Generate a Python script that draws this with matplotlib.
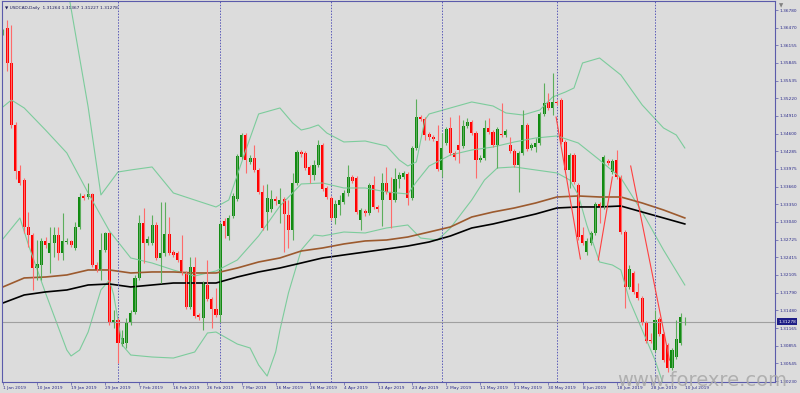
import numpy as np
import matplotlib
matplotlib.use('Agg')
import matplotlib.pyplot as plt
from matplotlib.transforms import blended_transform_factory

# USDCAD daily candles, 1 Jan - 10 Jul 2019 (bar index 0..160)
opens = [
    1.36375, 1.36463, 1.35845, 1.34751, 1.33939, 1.33780, 1.32951, 1.32809, 1.32227, 1.32280,
    1.32704, 1.32492, 1.32668, 1.32809, 1.32492, 1.32686, 1.32704, 1.32580, 1.32951, 1.33498,
    1.33480, 1.33533, 1.32280, 1.32192, 1.32545, 1.32845, 1.31256, 1.31309, 1.30885, 1.30903,
    1.31256, 1.31451, 1.32051, 1.33021, 1.32668, 1.32668, 1.32986, 1.32404, 1.32492, 1.32827,
    1.32509, 1.32492, 1.32368, 1.32139, 1.31539, 1.32245, 1.31398, 1.31345, 1.31927, 1.31680,
    1.31503, 1.31398, 1.33057, 1.32792, 1.33145, 1.33445, 1.34186, 1.34574, 1.34098, 1.34168,
    1.33957, 1.33569, 1.33215, 1.33268, 1.33445, 1.33357, 1.33445, 1.33162, 1.32898, 1.33727,
    1.34274, 1.34257, 1.34010, 1.33868, 1.34045, 1.34398, 1.33639, 1.33463, 1.33110, 1.33339,
    1.33392, 1.33551, 1.33833, 1.33816, 1.33074, 1.33233, 1.33198, 1.33692, 1.33304, 1.33427,
    1.33727, 1.33569, 1.33427, 1.33798, 1.33833, 1.33886, 1.33463, 1.34345, 1.34892, 1.34857,
    1.34592, 1.34539, 1.34468, 1.33957, 1.34433, 1.34698, 1.34257, 1.34398, 1.34380, 1.34733,
    1.34804, 1.34609, 1.34133, 1.34168, 1.34698, 1.34627, 1.34398, 1.34592, 1.34574, 1.34398,
    1.34292, 1.34045, 1.34257, 1.34751, 1.34345, 1.34362, 1.34433, 1.34945, 1.35157, 1.35051,
    1.35157, 1.35192, 1.34451, 1.33957, 1.34221, 1.33692, 1.32809, 1.32509, 1.32668, 1.32845,
    1.33357, 1.33304, 1.34116, 1.33921, 1.34133, 1.33833, 1.32862, 1.31892, 1.32139, 1.31804,
    1.31697, 1.31256, 1.30956, 1.30779, 1.31327, 1.31062, 1.30868, 1.30462, 1.30656, 1.30903,
    1.31264]
highs = [
    1.36445, 1.36604, 1.36516, 1.34804, 1.34045, 1.33816, 1.33215, 1.32845, 1.32721, 1.32756,
    1.32774, 1.32951, 1.32951, 1.32951, 1.33198, 1.32756, 1.32721, 1.33039, 1.33551, 1.33533,
    1.33727, 1.33551, 1.32333, 1.32845, 1.32862, 1.32862, 1.31486, 1.31345, 1.31132, 1.31345,
    1.31486, 1.32104, 1.33162, 1.33286, 1.32792, 1.33162, 1.33039, 1.33392, 1.33392, 1.33127,
    1.32545, 1.32527, 1.32809, 1.32174, 1.32421, 1.32421, 1.31433, 1.31998, 1.32368, 1.31715,
    1.31874, 1.33039, 1.33110, 1.33162, 1.33551, 1.34239, 1.34609, 1.34609, 1.34221, 1.34398,
    1.33992, 1.33692, 1.33710, 1.33604, 1.33498, 1.33639, 1.33480, 1.33427, 1.33904, 1.34309,
    1.34309, 1.34292, 1.34045, 1.34133, 1.34486, 1.34433, 1.33674, 1.33498, 1.33427, 1.33516,
    1.33604, 1.34045, 1.33868, 1.33851, 1.33286, 1.33268, 1.33727, 1.33851, 1.33339, 1.33904,
    1.34010, 1.33833, 1.33992, 1.33921, 1.33939, 1.33921, 1.34380, 1.35210, 1.34927, 1.34892,
    1.34627, 1.34574, 1.34751, 1.34609, 1.34716, 1.34892, 1.34292, 1.34927, 1.34839, 1.34874,
    1.34839, 1.34645, 1.34221, 1.34839, 1.34874, 1.34662, 1.34716, 1.35139, 1.34680, 1.34539,
    1.34327, 1.34292, 1.35016, 1.34786, 1.34433, 1.34521, 1.34980, 1.35492, 1.35316, 1.35669,
    1.35192, 1.35227, 1.34486, 1.34257, 1.34257, 1.33727, 1.32951, 1.32756, 1.32880, 1.33392,
    1.33392, 1.34221, 1.34151, 1.34151, 1.34309, 1.33868, 1.32898, 1.32280, 1.32174, 1.31962,
    1.31733, 1.31292, 1.31080, 1.31486, 1.31362, 1.31097, 1.30903, 1.30815, 1.31309, 1.31433,
    1.31367]
lows = [
    1.36339, 1.35704, 1.34698, 1.33798, 1.33692, 1.32845, 1.32598, 1.31839, 1.32015, 1.32015,
    1.32580, 1.32139, 1.32421, 1.32368, 1.32368, 1.32651, 1.32598, 1.32545, 1.32915, 1.33427,
    1.33445, 1.32245, 1.32157, 1.32015, 1.32509, 1.31221, 1.31168, 1.30550, 1.30850, 1.30815,
    1.31221, 1.31415, 1.32015, 1.32315, 1.32633, 1.32633, 1.32368, 1.31962, 1.32439, 1.32457,
    1.32421, 1.32333, 1.32104, 1.31503, 1.31503, 1.31345, 1.31309, 1.31132, 1.31645, 1.31168,
    1.31362, 1.31274, 1.32756, 1.32721, 1.33110, 1.33410, 1.34151, 1.33904, 1.34063, 1.33921,
    1.33533, 1.32898, 1.32898, 1.33215, 1.33339, 1.33021, 1.32509, 1.32580, 1.32721, 1.33692,
    1.34186, 1.33957, 1.33727, 1.33780, 1.34010, 1.33586, 1.33445, 1.33074, 1.33004, 1.33162,
    1.33357, 1.33498, 1.33727, 1.33180, 1.32898, 1.33145, 1.33162, 1.33268, 1.33215, 1.32968,
    1.33533, 1.32933, 1.33392, 1.33639, 1.33798, 1.33339, 1.33427, 1.34309, 1.34821, 1.34486,
    1.34486, 1.34468, 1.33939, 1.33833, 1.34398, 1.34221, 1.34133, 1.34080, 1.34345, 1.34698,
    1.34574, 1.33816, 1.34098, 1.34133, 1.34592, 1.34362, 1.33992, 1.34539, 1.34539, 1.34257,
    1.34010, 1.33569, 1.34221, 1.34292, 1.34309, 1.34274, 1.34398, 1.34910, 1.35016, 1.34927,
    1.35104, 1.34415, 1.33921, 1.33639, 1.33710, 1.32721, 1.32633, 1.32457, 1.32633, 1.32809,
    1.33021, 1.33268, 1.34045, 1.33886, 1.33798, 1.32827, 1.31521, 1.31856, 1.31768, 1.31662,
    1.31221, 1.30903, 1.30903, 1.30744, 1.31027, 1.30568, 1.30391, 1.30427, 1.30621, 1.30868,
    1.31227]
closes = [
    1.36410, 1.35845, 1.34751, 1.33939, 1.33727, 1.32951, 1.32809, 1.32227, 1.32298, 1.32704,
    1.32633, 1.32668, 1.32809, 1.32492, 1.32704, 1.32704, 1.32633, 1.32951, 1.33480, 1.33463,
    1.33533, 1.32280, 1.32192, 1.32545, 1.32845, 1.31256, 1.31309, 1.30903, 1.30991, 1.31256,
    1.31433, 1.32051, 1.33021, 1.32668, 1.32739, 1.32986, 1.32404, 1.32492, 1.32827, 1.32492,
    1.32457, 1.32368, 1.32139, 1.31539, 1.32245, 1.31380, 1.31362, 1.31962, 1.31680, 1.31503,
    1.31398, 1.33004, 1.32968, 1.33110, 1.33498, 1.34204, 1.34574, 1.34133, 1.34168, 1.33957,
    1.33569, 1.32933, 1.33463, 1.33445, 1.33410, 1.33427, 1.33180, 1.32898, 1.33727, 1.34274,
    1.34239, 1.33992, 1.33868, 1.34045, 1.34398, 1.33621, 1.33480, 1.33110, 1.33357, 1.33427,
    1.33551, 1.33833, 1.33763, 1.33215, 1.33251, 1.33198, 1.33692, 1.33304, 1.33268, 1.33727,
    1.33569, 1.33427, 1.33798, 1.33868, 1.33904, 1.33463, 1.34345, 1.34892, 1.34857, 1.34574,
    1.34539, 1.34504, 1.33974, 1.34345, 1.34680, 1.34257, 1.34186, 1.34309, 1.34733, 1.34804,
    1.34609, 1.34133, 1.34168, 1.34698, 1.34627, 1.34398, 1.34680, 1.34574, 1.34645, 1.34292,
    1.34045, 1.34257, 1.34751, 1.34327, 1.34398, 1.34433, 1.34945, 1.35139, 1.35051, 1.35157,
    1.35139, 1.34451, 1.33957, 1.34221, 1.33745, 1.32774, 1.32668, 1.32704, 1.32845, 1.33357,
    1.33304, 1.34186, 1.34080, 1.34116, 1.33833, 1.32862, 1.31892, 1.32209, 1.31804, 1.31697,
    1.31256, 1.30938, 1.30938, 1.31309, 1.31062, 1.30603, 1.30462, 1.30779, 1.30974, 1.31362,
    1.31278]

date_labels = ['1 Jan 2019', '10 Jan 2019', '19 Jan 2019', '29 Jan 2019', '7 Feb 2019',
               '16 Feb 2019', '26 Feb 2019', '7 Mar 2019', '16 Mar 2019', '26 Mar 2019',
               '4 Apr 2019', '13 Apr 2019', '23 Apr 2019', '2 May 2019', '11 May 2019',
               '21 May 2019', '30 May 2019', '8 Jun 2019', '18 Jun 2019', '28 Jun 2019',
               '10 Jul 2019']
month_start_bars = [27, 51, 77, 103, 130, 153]

price_ticks = [1.36780, 1.36470, 1.36155, 1.35845, 1.35535, 1.35220, 1.34910, 1.34600,
               1.34285, 1.33975, 1.33660, 1.33350, 1.33040, 1.32725, 1.32415, 1.32105,
               1.31790, 1.31480, 1.31165, 1.30855, 1.30545, 1.30230]
last_price = 1.31278
header = 'USDCAD,Daily  1.31264 1.31367 1.31227 1.31278'

# moving averages, read every 5 bars
ma_bars = list(range(0, 161, 5))
ma_brown = [1.31892, 1.32051, 1.32068, 1.32104, 1.32192, 1.32192, 1.32139, 1.32157, 1.32157,
            1.32139, 1.32139, 1.32227, 1.32333, 1.32404, 1.32527, 1.32580, 1.32651, 1.32704,
            1.32721, 1.32774, 1.32862, 1.32951, 1.33127, 1.33215, 1.33286, 1.33374, 1.33480,
            1.33498, 1.33480, 1.33480, 1.33374, 1.33251, 1.33110]
ma_black = [1.31609, 1.31751, 1.31804, 1.31839, 1.31927, 1.31945, 1.31892, 1.31927, 1.31962,
            1.31962, 1.31962, 1.32068, 1.32157, 1.32227, 1.32315, 1.32404, 1.32457, 1.32509,
            1.32562, 1.32615, 1.32686, 1.32792, 1.32933, 1.33004, 1.33092, 1.33180, 1.33286,
            1.33304, 1.33304, 1.33321, 1.33215, 1.33110, 1.33004]

# bollinger bands
bb_up_bars = [15, 20, 23, 27, 30, 35, 40, 45, 50, 53, 55, 57, 60, 65, 68, 70, 72, 74, 76, 80,
              85, 90, 93, 95, 97, 99, 100, 105, 110, 115, 118, 122, 126, 129, 132, 134, 136,
              140, 145, 150, 155, 158, 160]
bb_up = [1.37239, 1.35069, 1.33516, 1.33921, 1.33957, 1.34010, 1.33551, 1.33427, 1.33304,
         1.33427, 1.33868, 1.34309, 1.34945, 1.35051, 1.34786, 1.34662, 1.34698, 1.34751,
         1.34609, 1.34451, 1.34468, 1.34380, 1.34133, 1.34027, 1.34098, 1.34839, 1.34945,
         1.35051, 1.35157, 1.35086, 1.34963, 1.34927, 1.35016, 1.35245, 1.35333, 1.35404,
         1.35845, 1.35933, 1.35633, 1.35104, 1.34698, 1.34574, 1.34345]
bb_mid_bars = [0, 2, 5, 10, 15, 20, 25, 30, 35, 40, 45, 50, 55, 60, 65, 70, 75, 80, 85, 90,
               95, 97, 100, 105, 110, 115, 120, 125, 130, 135, 140, 145, 150, 155, 160]
bb_mid = [1.35069, 1.35192, 1.35051, 1.34662, 1.34257, 1.33551, 1.32880, 1.32404, 1.32315,
          1.32192, 1.32086, 1.32174, 1.32368, 1.32792, 1.33321, 1.33710, 1.33727, 1.33639,
          1.33639, 1.33569, 1.33533, 1.33745, 1.34027, 1.34221, 1.34309, 1.34362, 1.34451,
          1.34521, 1.34557, 1.34433, 1.34133, 1.33816, 1.33215, 1.32545, 1.31927]
bb_low_bars = [0, 4, 6, 10, 15, 16, 18, 20, 23, 25, 26, 28, 30, 35, 40, 45, 48, 50, 55, 58,
               60, 62, 64, 65, 67, 70, 73, 75, 80, 85, 90, 95, 98, 102, 105, 110, 113, 116,
               120, 125, 130, 133, 135, 137, 140, 143, 145, 147, 150, 153, 155, 157]
bb_low = [1.32739, 1.33110, 1.32633, 1.31786, 1.30779, 1.30674, 1.30779, 1.31097, 1.31839,
          1.32015, 1.31751, 1.30868, 1.30691, 1.30656, 1.30638, 1.30744, 1.31080, 1.31097,
          1.30885, 1.30815, 1.30515, 1.30320, 1.30745, 1.31132, 1.31786, 1.32545, 1.32809,
          1.32792, 1.32862, 1.32845, 1.32933, 1.32986, 1.32756, 1.32721, 1.32933, 1.33427,
          1.33780, 1.33992, 1.34010, 1.33957, 1.33904, 1.33780, 1.33516, 1.32986, 1.32333,
          1.32280, 1.32192, 1.31662, 1.31132, 1.30603, 1.30162, 1.29897]

# red trend segments (start bar, start price, end bar, end price)
seg_x0 = [129.8, 139.7, 147.3]
seg_y0 = [1.34891, 1.32368, 1.34027]
seg_x1 = [135.5, 143.0, 156.4]
seg_y1 = [1.32386, 1.33833, 1.30603]

bg = '#dcdcdc'
frame = '#5b5bab'
txt = '#2a2a8a'

fig = plt.figure(figsize=(8, 3.93), dpi=100, facecolor=bg)
ax = fig.add_axes([0.0025, 0.028, 0.96625, 0.96947])
ax.set_facecolor(bg)

o = np.array(opens); h = np.array(highs); l = np.array(lows); c = np.array(closes)
x = np.arange(len(o))
up = c >= o

# indicator lines first so candles sit on top
ax.plot(bb_up_bars, bb_up, color='#7ccc9c', lw=0.8)
ax.plot(bb_mid_bars, bb_mid, color='#7ccc9c', lw=0.8)
ax.plot(bb_low_bars, bb_low, color='#7ccc9c', lw=0.8)
ax.plot(ma_bars, ma_brown, color='#9c5a2e', lw=1.2)
ax.plot(ma_bars, ma_black, color='#000000', lw=1.2)

for m in month_start_bars:
    ax.axvline(m, color='#5a5ab8', lw=0.7, ls=(0, (1.5, 1.5)))
ax.axhline(last_price, color='#a0a0a0', lw=0.8)

# candles
ax.vlines(x[up], l[up], h[up], color='#5cae5c', lw=0.8)
ax.vlines(x[~up], l[~up], h[~up], color='#ff6a6a', lw=0.8)
body_h = np.maximum(np.abs(c - o), 0.00006)
ax.bar(x, body_h, bottom=np.minimum(o, c), width=0.72,
       color=np.where(up, '#108a10', '#ff0000'), linewidth=0)

for x0, y0, x1, y1 in zip(seg_x0, seg_y0, seg_x1, seg_y1):
    ax.plot([x0, x1], [y0, y1], color='#ff4040', lw=0.8)

ax.set_xlim(-0.21, 181.16)
ax.set_ylim(1.30215, 1.36939)

for s in ax.spines.values():
    s.set_color(frame)
    s.set_linewidth(0.8)

ax.yaxis.tick_right()
ax.set_yticks(price_ticks)
ax.set_yticklabels([f'{v:.5f}' for v in price_ticks])
ax.set_xticks(range(0, 161, 8))
ax.set_xticklabels(date_labels, ha='left')
ax.tick_params(axis='both', length=2, width=0.5, color=frame, labelcolor=txt,
               labelsize=3.1, pad=1)

# current price tag
tr = blended_transform_factory(ax.transAxes, ax.transData)
ax.text(1.004, last_price, f'{last_price:.5f}', transform=tr, ha='left', va='center',
        color='white', fontsize=3.1,
        bbox=dict(boxstyle='square,pad=0.35', fc='#1e1e86', ec='none'))

ax.text(0.004, 0.988, '\u25bc ' + header, transform=ax.transAxes, ha='left', va='top',
        fontsize=3.1, color='#1a1a5a')
fig.text(0.976, 0.986, '\u25bc', fontsize=4, color='#808080', ha='center', va='center')

fig.text(0.772, 0.018, 'www.forexre.com', fontsize=14, color='#a8a8a8', alpha=0.85,
         ha='left', va='baseline')

fig.savefig('out.png', dpi=100, facecolor=bg)
